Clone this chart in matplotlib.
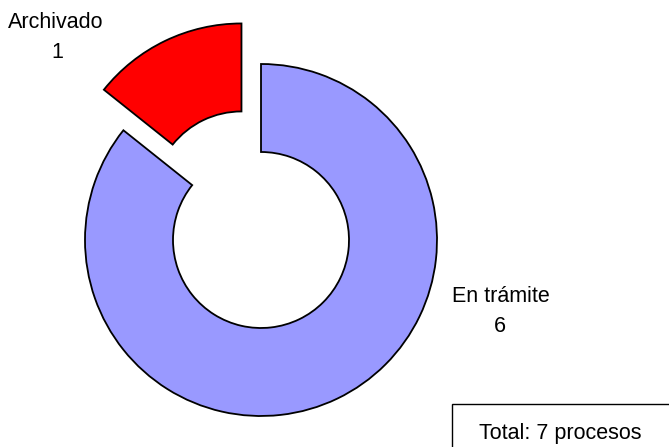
import matplotlib
matplotlib.use("Agg")
import matplotlib.pyplot as plt
from matplotlib.patches import Rectangle

# datos
labels = ["En trámite", "Archivado"]
values = [6, 1]
colors = ["#9999ff", "#ff0000"]
total_text = f"Total: {sum(values)} procesos"

W, H = 669, 447
fig = plt.figure(figsize=(W / 100, H / 100), dpi=100)
ax = fig.add_axes([0, 0, 1, 1])

# coordenadas en pixeles (y hacia arriba)
cx, cy, r = 261, H - 240, 176
ax.pie(values, colors=colors, radius=r, center=(cx, cy), startangle=90,
       counterclock=False, explode=[0, 45], frame=True,
       wedgeprops=dict(width=88, edgecolor="black", linewidth=1.3))
ax.set_xlim(0, W)
ax.set_ylim(0, H)
ax.set_aspect("equal")
ax.axis("off")

font = dict(family=["Liberation Sans", "DejaVu Sans"], fontsize=15.5, color="black",
            ha="center", va="center")
ax.text(501, H - 296, labels[0], **font)
ax.text(500, H - 326, str(values[0]), **font)
ax.text(56, H - 22, labels[1], **font)
ax.text(57, H - 52, str(values[1]), **font)

ax.add_patch(Rectangle((452, -10), 240, H - 404 + 10, facecolor="white",
                       edgecolor="black", linewidth=1.0, clip_on=False))
ax.text(560, H - 433, total_text, **font)

fig.savefig("out.png", dpi=100, facecolor="white")
